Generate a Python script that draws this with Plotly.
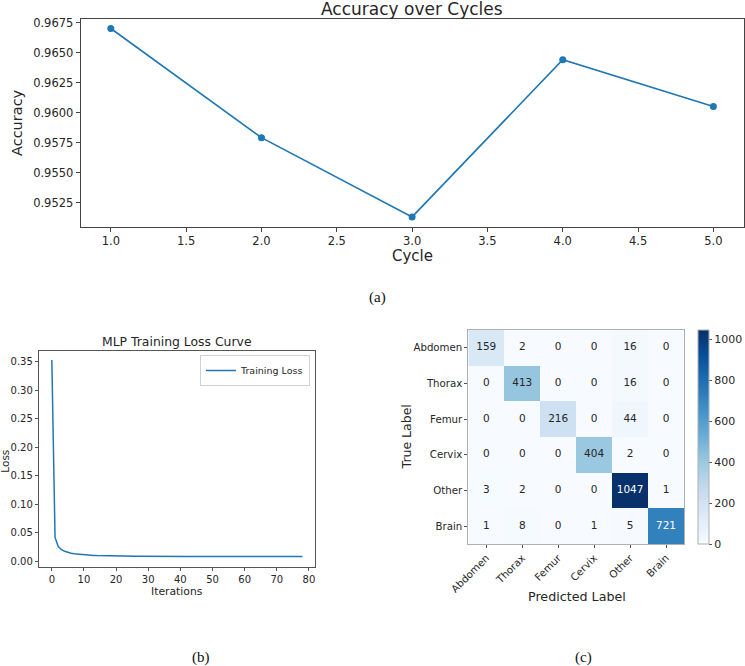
import plotly.graph_objects as go

# ---------------- data ----------------
cycles = [1, 2, 3, 4, 5]
accuracy = [0.9670, 0.9579, 0.9513, 0.9644, 0.9605]
acc_yticks = [0.9525, 0.9550, 0.9575, 0.9600, 0.9625, 0.9650, 0.9675]
acc_xticks = [1.0, 1.5, 2.0, 2.5, 3.0, 3.5, 4.0, 4.5, 5.0]

iterations = list(range(79))
loss = [0.3530, 0.0420, 0.0260, 0.0205, 0.0177, 0.0158, 0.0145, 0.0135, 0.0128, 0.0122,
        0.0117, 0.0113, 0.0109, 0.0106, 0.0103, 0.0101, 0.0099, 0.0097, 0.0096, 0.0095,
        0.0094, 0.0093, 0.0093, 0.0092, 0.0092, 0.0091, 0.0091, 0.0091, 0.0090, 0.0090,
        0.0090, 0.0090, 0.0089, 0.0089, 0.0089, 0.0089, 0.0089, 0.0089, 0.0089, 0.0088,
        0.0088, 0.0088, 0.0088, 0.0088, 0.0088, 0.0088, 0.0088, 0.0088, 0.0088, 0.0088,
        0.0088, 0.0088, 0.0088, 0.0088, 0.0088, 0.0088, 0.0088, 0.0087, 0.0087, 0.0087,
        0.0087, 0.0087, 0.0087, 0.0087, 0.0087, 0.0087, 0.0087, 0.0087, 0.0087, 0.0087,
        0.0087, 0.0087, 0.0087, 0.0087, 0.0087, 0.0087, 0.0087, 0.0087, 0.0087]
loss_xticks = [0, 10, 20, 30, 40, 50, 60, 70, 80]
loss_yticks = [0.00, 0.05, 0.10, 0.15, 0.20, 0.25, 0.30, 0.35]

classes = ["Abdomen", "Thorax", "Femur", "Cervix", "Other", "Brain"]
confusion = [
    [159, 2, 0, 0, 16, 0],
    [0, 413, 0, 0, 16, 0],
    [0, 0, 216, 0, 44, 0],
    [0, 0, 0, 404, 2, 0],
    [3, 2, 0, 0, 1047, 1],
    [1, 8, 0, 1, 5, 721],
]
cbar_ticks = [0, 200, 400, 600, 800, 1000]

# ---------------- figure ----------------
W, H = 745, 666
C0 = "#1f77b4"
FONT = "DejaVu Sans"
TXT = "#262626"


def px(xp):
    return xp / W


def py(yp):
    return 1 - yp / H


fig = go.Figure()

# (a) accuracy
fig.add_trace(go.Scatter(x=cycles, y=accuracy, mode="lines+markers",
                         line=dict(color=C0, width=1.6), marker=dict(color=C0, size=7),
                         xaxis="x", yaxis="y", showlegend=False))

# (b) loss
fig.add_trace(go.Scatter(x=iterations, y=loss, mode="lines", name="Training Loss",
                         line=dict(color=C0, width=1.5),
                         xaxis="x2", yaxis="y2", showlegend=True))

# (c) confusion matrix
Blues = [[0.0, "rgb(247,251,255)"], [0.125, "rgb(222,235,247)"], [0.25, "rgb(198,219,239)"],
         [0.375, "rgb(158,202,225)"], [0.5, "rgb(107,174,214)"], [0.625, "rgb(66,146,198)"],
         [0.75, "rgb(33,113,181)"], [0.875, "rgb(8,81,156)"], [1.0, "rgb(8,48,107)"]]
zmax = max(max(r) for r in confusion)
fig.add_trace(go.Heatmap(z=confusion, x=list(range(6)), y=list(range(6)),
                         colorscale=Blues, zmin=0, zmax=zmax,
                         xaxis="x3", yaxis="y3", hoverinfo="skip",
                         colorbar=dict(x=px(697.5), xanchor="left", xpad=0, ypad=0,
                                       y=py(544), yanchor="bottom", len=214 / H, lenmode="fraction",
                                       thickness=11, outlinecolor="#b0b0b0", outlinewidth=1,
                                       tickvals=cbar_ticks, ticks="outside", ticklen=3,
                                       tickcolor="#555", tickfont=dict(size=11, color=TXT, family=FONT))))
tx, ty, tt, tc = [], [], [], []
for i, row in enumerate(confusion):
    for j, v in enumerate(row):
        tx.append(j)
        ty.append(i)
        tt.append(str(v))
        tc.append("white" if v > zmax / 2 else TXT)
fig.add_trace(go.Scatter(x=tx, y=ty, text=tt, mode="text", textfont=dict(color=tc, size=10.5, family=FONT),
                         xaxis="x3", yaxis="y3", showlegend=False, hoverinfo="skip"))

axcommon = dict(showline=True, mirror=True, ticks="outside", showgrid=False, zeroline=False,
                automargin=False)

fig.update_layout(
    template="none",
    width=W, height=H, autosize=False,
    margin=dict(l=0, r=0, t=0, b=0, pad=0),
    paper_bgcolor="white", plot_bgcolor="white",
    font=dict(family=FONT, color=TXT),
    xaxis=dict(domain=[px(80.7), px(743.5)], range=[0.8, 5.2], anchor="y",
               tickvals=acc_xticks, ticktext=[f"{v:.1f}" for v in acc_xticks],
               linecolor="#444", ticklen=4, tickcolor="#444",
               tickfont=dict(size=11.5), **axcommon),
    yaxis=dict(domain=[py(226.5), py(19)], range=[0.9505, 0.96779], anchor="x",
               tickvals=acc_yticks, ticktext=[f"{v:.4f}" for v in acc_yticks],
               linecolor="#444", ticklen=4, tickcolor="#444",
               tickfont=dict(size=11.5), **axcommon),
    xaxis2=dict(domain=[px(39.3), px(315)], range=[-3.9, 81.9], anchor="y2",
                tickvals=loss_xticks, linecolor="#555", ticklen=3, tickcolor="#555",
                tickfont=dict(size=10), **axcommon),
    yaxis2=dict(domain=[py(566.7), py(350.7)], range=[-0.0092, 0.3692], anchor="x2",
                tickvals=loss_yticks, ticktext=[f"{v:.2f}" for v in loss_yticks],
                linecolor="#555", ticklen=3.5, tickcolor="#555",
                tickfont=dict(size=10), **axcommon),
    xaxis3=dict(domain=[px(468.3), px(684)], range=[-0.5, 5.5], anchor="y3",
                tickvals=list(range(6)), ticktext=classes, tickangle=-45,
                linecolor="#b0b0b0", ticklen=3, tickcolor="#555",
                tickfont=dict(size=10.2), **axcommon),
    yaxis3=dict(domain=[py(544), py(330)], range=[5.5, -0.5], anchor="x3",
                tickvals=list(range(6)), ticktext=classes,
                linecolor="#b0b0b0", ticklen=3, tickcolor="#555",
                tickfont=dict(size=10.2), **axcommon),
    legend=dict(x=px(310), xanchor="right", y=py(355), yanchor="top",
                bordercolor="#d0d0d0", borderwidth=1, bgcolor="white",
                font=dict(size=9.5, color=TXT), itemwidth=30, tracegroupgap=0),
)

ann = [
    ("Accuracy over Cycles", 412, 9, 17, 0, FONT),
    ("Cycle", 412, 256, 15, 0, FONT),
    ("Accuracy", 17, 123, 14.5, -90, FONT),
    ("(a)", 377, 297, 15, 0, "Liberation Serif"),
    ("MLP Training Loss Curve", 177, 341.7, 12.4, 0, FONT),
    ("Iterations", 177, 591, 10.8, 0, FONT),
    ("Loss", 5, 461.7, 10.5, -90, FONT),
    ("(b)", 200.7, 657.7, 15, 0, "Liberation Serif"),
    ("True Label", 406.7, 436.7, 12.5, -90, FONT),
    ("Predicted Label", 576.7, 596.7, 12.7, 0, FONT),
    ("(c)", 583, 657.7, 15, 0, "Liberation Serif"),
]
for text, xp, yp, size, ang, fam in ann:
    fig.add_annotation(text=text, x=px(xp), y=py(yp), xref="paper", yref="paper",
                       xanchor="center", yanchor="middle", showarrow=False, textangle=ang,
                       borderpad=0,
                       font=dict(size=size, family=fam, color="#111" if fam != FONT else TXT))

fig.write_html("out.html")
